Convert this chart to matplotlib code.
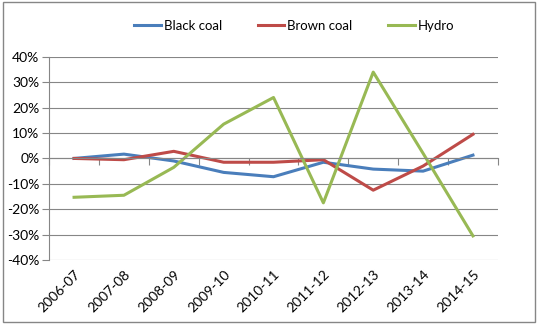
import matplotlib.pyplot as plt
import matplotlib.patches as patches
from matplotlib.ticker import FixedLocator, FuncFormatter

years = ["2006-07", "2007-08", "2008-09", "2009-10", "2010-11",
         "2011-12", "2012-13", "2013-14", "2014-15"]
black_coal = [0.0, 1.7, -1.0, -5.5, -7.2, -1.5, -4.2, -5.0, 1.3]
brown_coal = [0.0, -0.5, 2.8, -1.5, -1.5, -0.5, -12.5, -3.0, 9.5]
hydro = [-15.3, -14.5, -3.5, 13.5, 24.0, -17.5, 34.0, 2.0, -30.5]

plt.rcParams['font.family'] = ['Lato', 'DejaVu Sans']

fig = plt.figure(figsize=(5.4, 3.25), dpi=100)
ax = fig.add_axes([0.091, 0.2, 0.831, 0.625])

x = list(range(len(years)))
ax.plot(x, black_coal, color="#4A7EBB", lw=2.2, label="Black coal")
ax.plot(x, brown_coal, color="#BE4B48", lw=2.2, label="Brown coal")
ax.plot(x, hydro, color="#98B954", lw=2.2, label="Hydro")

ax.set_xlim(-0.5, len(years) - 0.5)
ax.set_ylim(-40, 40)
ax.set_yticks(range(-40, 41, 10))
ax.yaxis.set_major_formatter(FuncFormatter(lambda v, p: "%d%%" % v))
ax.grid(axis="y", color="#868686", lw=0.8)
ax.set_axisbelow(True)

for s in ["top", "right"]:
    ax.spines[s].set_visible(False)
ax.spines["left"].set_color("#868686")
ax.spines["bottom"].set_color("#868686")
ax.spines["bottom"].set_position(("data", 0))
ax.xaxis.set_major_locator(FixedLocator([i + 0.5 for i in range(-1, len(years))]))
ax.tick_params(axis="x", length=5, color="#868686", labelbottom=False)
ax.tick_params(axis="y", length=5, color="#868686", labelsize=10, pad=2)

sec = ax.secondary_xaxis("bottom")
sec.set_xticks(x)
sec.set_xticklabels(years, rotation=45, ha="right", rotation_mode="anchor", fontsize=10)
sec.tick_params(length=0, pad=6)
sec.spines["bottom"].set_visible(False)

fig.legend(loc="center", bbox_to_anchor=(0.545, 0.92), ncol=3, frameon=False,
           fontsize=9.5, handlelength=2.0, columnspacing=2.7, handletextpad=0.25)

fig.patches.append(patches.Rectangle((0.006, 0.01), 0.985, 0.983, transform=fig.transFigure,
                                     fill=False, edgecolor="#868686", lw=1))

fig.savefig("out.png", dpi=100)
